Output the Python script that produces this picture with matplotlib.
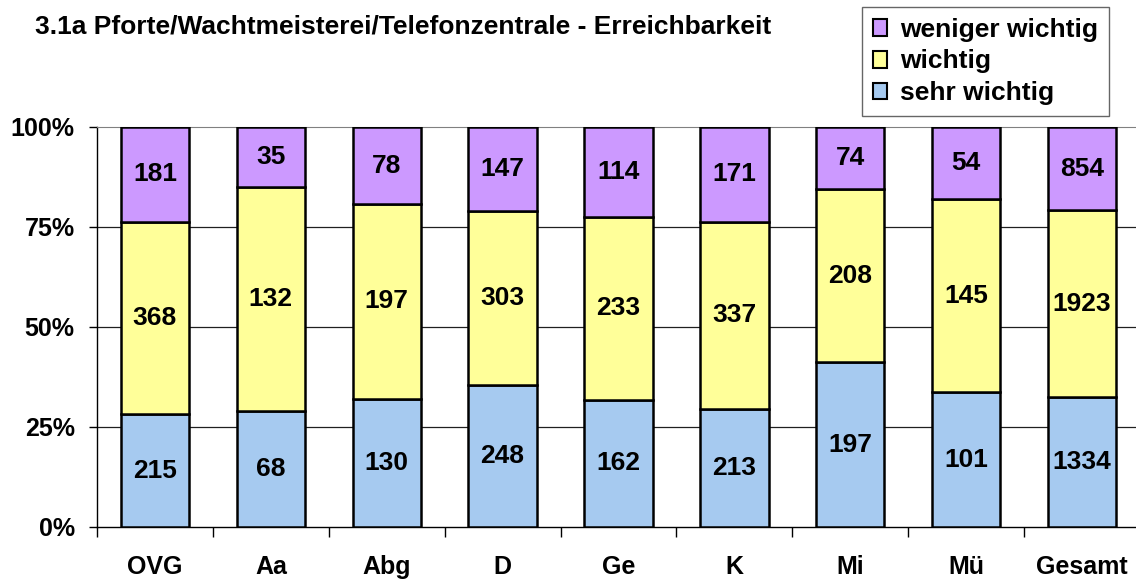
import matplotlib.pyplot as plt
import numpy as np
from matplotlib.patches import Patch

plt.rcParams['font.family'] = ['Liberation Sans', 'DejaVu Sans']
plt.rcParams['font.weight'] = 'bold'

kategorien = ['OVG', 'Aa', 'Abg', 'D', 'Ge', 'K', 'Mi', 'Mü', 'Gesamt']
sehr_wichtig = [215, 68, 130, 248, 162, 213, 197, 101, 1334]
wichtig = [368, 132, 197, 303, 233, 337, 208, 145, 1923]
weniger_wichtig = [181, 35, 78, 147, 114, 171, 74, 54, 854]
serien = ['sehr wichtig', 'wichtig', 'weniger wichtig']
farben = ['#A6CAF0', '#FFFF99', '#CC99FF']
y_ticks = [0, 25, 50, 75, 100]
y_labels = ['0%', '25%', '50%', '75%', '100%']

werte = np.array([sehr_wichtig, wichtig, weniger_wichtig], dtype=float)
anteile = werte / werte.sum(axis=0) * 100

fig = plt.figure(figsize=(11.36, 5.81), dpi=100)
ax = fig.add_axes([97 / 1136, 54 / 581, 1043 / 1136, 400 / 581])

x = np.arange(len(kategorien))
unten = np.zeros(len(kategorien))
for i in range(3):
    ax.bar(x, anteile[i], 0.59, bottom=unten, color=farben[i],
           edgecolor='black', linewidth=1.8, zorder=3)
    for j in range(len(kategorien)):
        ax.text(x[j], unten[j] + anteile[i][j] / 2, str(int(werte[i][j])),
                ha='center', va='center', fontsize=19, fontweight='bold', zorder=4)
    unten += anteile[i]

ax.set_xlim(-0.5, len(kategorien) - 0.5)
ax.set_ylim(0, 100)
for g in [25, 50, 75]:
    ax.axhline(g, color='#202020', linewidth=0.9, zorder=1)

ax.set_yticks(y_ticks)
ax.set_yticklabels(y_labels, fontsize=18, fontweight='bold')
ax.tick_params(axis='y', direction='out', length=6, width=1, pad=10)

ax.set_xticks(np.arange(-0.5, len(kategorien)), minor=False)
ax.set_xticklabels([])
ax.tick_params(axis='x', which='major', direction='out', length=7, width=1)
ax.set_xticks(x, minor=True)
ax.set_xticklabels(kategorien, minor=True, fontsize=18, fontweight='bold')
ax.tick_params(axis='x', which='minor', length=0, pad=20)

ax.spines['right'].set_visible(False)
ax.spines['top'].set_color('#808080')
ax.spines['left'].set_linewidth(1)
ax.spines['bottom'].set_linewidth(1)

fig.text(35 / 1136, 1 - 26 / 581, '3.1a Pforte/Wachtmeisterei/Telefonzentrale - Erreichbarkeit',
         fontsize=19, fontweight='bold', va='center', ha='left')

handles = [Patch(facecolor=farben[i], edgecolor='black', linewidth=1.5) for i in [2, 1, 0]]
leg = fig.legend(handles, [serien[i] for i in [2, 1, 0]], loc='upper left',
                 bbox_to_anchor=(862 / 1136, 1 - 7 / 581), fontsize=19,
                 frameon=True, fancybox=False, edgecolor='#404040',
                 handlelength=0.55, handleheight=0.6, handletextpad=0.5,
                 labelspacing=0.3, borderpad=0.4, borderaxespad=0)
leg.get_frame().set_linewidth(1)
for t in leg.get_texts():
    t.set_fontweight('bold')

fig.savefig('out.png', dpi=100)
